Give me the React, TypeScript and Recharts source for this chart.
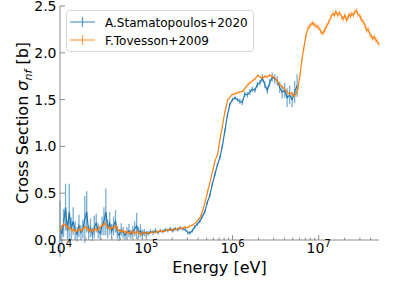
import { Legend, ErrorBar, Line, LineChart, XAxis, YAxis } from 'recharts';

const FONT = 'DejaVu Sans';
const AXIS = '#8c8c8c';
const BLUE = '#1f77b4';
const ORANGE = '#ff7f0e';

const seriesNames = ['A.Stamatopoulos+2020', 'F.Tovesson+2009'];

// A.Stamatopoulos+2020 (energy in eV, cross section in b)
const stamEnergy = [
  10000, 10500, 11000, 11600, 12200, 12800, 13500, 14200, 15000, 15800,
  16600, 17500, 18400, 19400, 20400, 21500, 22600, 23800, 25000, 26300,
  27700, 29200, 30700, 32300, 34000, 35800, 37700, 39700, 41800, 44000,
  46300, 48700, 51300, 54000, 56800, 59800, 63000, 66300, 69800, 73500,
  77400, 81500, 85800, 90300, 95000, 100000, 105000, 112000, 120000, 128000,
  137000, 146000, 156000, 167000, 178000, 190000, 203000, 217000, 232000, 248000,
  266000, 284000, 303000, 321000, 343000, 366000, 390000, 417000, 446000, 477000,
  510000, 547000, 585000, 625000, 668000, 714000, 763000, 817000, 873000, 933000,
  1000000, 1070000, 1140000, 1220000, 1300000, 1390000, 1490000, 1590000, 1700000, 1820000,
  1940000, 2080000, 2220000, 2370000, 2530000, 2700000, 2890000, 3090000, 3300000, 3530000,
  3770000, 4030000, 4300000, 4600000, 4920000, 5260000, 5620000,
];
const stamXs = [
  0.12, 0.06, 0.18, 0.35, 0.1, 0.3, 0.12, 0.2, 0.1, 0.06,
  0.15, 0.08, 0.12, 0.22, 0.3, 0.08, 0.13, 0.06, 0.14, 0.18,
  0.1, 0.07, 0.15, 0.2, 0.3, 0.12, 0.18, 0.09, 0.15, 0.2,
  0.08, 0.05, 0.11, 0.08, 0.05, 0.08, 0.1, 0.06, 0.09, 0.12,
  0.15, 0.08, 0.1, 0.06, 0.08, 0.07, 0.07, 0.09, 0.08, 0.1,
  0.08, 0.1, 0.09, 0.11, 0.1, 0.12, 0.1, 0.12, 0.11, 0.13,
  0.12, 0.11, 0.08, 0.075, 0.1, 0.14, 0.17, 0.2, 0.25, 0.3,
  0.4, 0.48, 0.6, 0.7, 0.8, 0.88, 1.0, 1.17, 1.33, 1.45,
  1.5, 1.52, 1.5, 1.48, 1.47, 1.56, 1.55, 1.58, 1.61, 1.6,
  1.66, 1.68, 1.73, 1.66, 1.6, 1.68, 1.74, 1.72, 1.7, 1.63,
  1.58, 1.6, 1.52, 1.55, 1.5, 1.58, 1.65,
];
const stamErr = [
  0.3, 0.1, 0.15, 0.25, 0.1, 0.3, 0.12, 0.15, 0.1, 0.08,
  0.12, 0.08, 0.1, 0.25, 0.22, 0.08, 0.1, 0.07, 0.12, 0.1,
  0.08, 0.07, 0.1, 0.15, 0.25, 0.1, 0.12, 0.08, 0.1, 0.12,
  0.07, 0.06, 0.07, 0.06, 0.05, 0.06, 0.07, 0.05, 0.06, 0.08,
  0.14, 0.06, 0.07, 0.05, 0.04, 0.03, 0.03, 0.03, 0.03, 0.03,
  0.02, 0.02, 0.02, 0.02, 0.02, 0.02, 0.02, 0.02, 0.02, 0.02,
  0.02, 0.02, 0.02, 0.02, 0.02, 0.02, 0.02, 0.02, 0.02, 0.02,
  0.02, 0.02, 0.02, 0.02, 0.02, 0.02, 0.02, 0.02, 0.02, 0.02,
  0.02, 0.02, 0.02, 0.03, 0.03, 0.03, 0.03, 0.03, 0.03, 0.03,
  0.03, 0.03, 0.04, 0.04, 0.04, 0.04, 0.05, 0.05, 0.05, 0.06,
  0.07, 0.08, 0.1, 0.1, 0.08, 0.12, 0.12,
];

// F.Tovesson+2009
const tovEnergy = [
  10000, 10500, 11000, 11500, 12000, 12600, 13200, 13800, 14500, 15200,
  16000, 16800, 17600, 18500, 19400, 20400, 21400, 22500, 23600, 24800,
  26000, 27300, 28700, 30100, 31600, 33200, 34900, 36600, 38400, 40300,
  42300, 44400, 46600, 49000, 51400, 54000, 56700, 59500, 62500, 65600,
  68900, 72300, 75900, 79700, 83700, 87900, 92300, 96900, 102000, 110000,
  118000, 127000, 136000, 146000, 157000, 169000, 181000, 195000, 209000, 225000,
  241000, 259000, 278000, 299000, 321000, 345000, 370000, 397000, 426000, 454000,
  486000, 519000, 555000, 593000, 625000, 677000, 714000, 765000, 817000, 885000,
  984000, 1050000, 1120000, 1200000, 1320000, 1420000, 1510000, 1590000, 1700000, 1820000,
  1970000, 2100000, 2250000, 2380000, 2510000, 2680000, 2860000, 3020000, 3180000, 3360000,
  3540000, 3740000, 3940000, 4100000, 4270000, 4440000, 4620000, 4810000, 5010000, 5220000,
  5430000, 5730000, 6040000, 6370000, 6710000, 7100000, 7480000, 7800000, 8100000, 8500000,
  8850000, 9250000, 9600000, 10000000, 10500000, 10900000, 11400000, 11800000, 12400000, 13100000,
  13800000, 14600000, 15200000, 15800000, 16600000, 17400000, 18500000, 19200000, 20100000, 21000000,
  21700000, 22500000, 23400000, 24200000, 25300000, 26200000, 27600000, 28300000, 29900000, 30800000,
  31500000, 32800000, 34200000, 35100000, 36000000, 37500000, 39100000, 40500000, 42400000, 43800000,
  45900000, 47500000, 49800000,
];
const tovXs = [
  0.1, 0.14, 0.17, 0.16, 0.15, 0.12, 0.13, 0.1, 0.11, 0.09,
  0.1, 0.12, 0.1, 0.12, 0.14, 0.13, 0.1, 0.11, 0.09, 0.11,
  0.12, 0.1, 0.13, 0.15, 0.16, 0.18, 0.15, 0.13, 0.12, 0.14,
  0.13, 0.15, 0.11, 0.1, 0.09, 0.1, 0.08, 0.09, 0.07, 0.08,
  0.09, 0.07, 0.08, 0.09, 0.07, 0.06, 0.08, 0.07, 0.08, 0.07,
  0.09, 0.08, 0.09, 0.1, 0.09, 0.1, 0.11, 0.1, 0.12, 0.11,
  0.13, 0.12, 0.14, 0.13, 0.15, 0.16, 0.18, 0.21, 0.25, 0.32,
  0.42, 0.53, 0.64, 0.75, 0.84, 0.93, 1.07, 1.22, 1.37, 1.5,
  1.55, 1.56, 1.57, 1.58, 1.59, 1.63, 1.66, 1.68, 1.7, 1.72,
  1.76, 1.74, 1.73, 1.75, 1.74, 1.76, 1.75, 1.74, 1.72, 1.69,
  1.66, 1.64, 1.62, 1.6, 1.58, 1.57, 1.56, 1.57, 1.55, 1.54,
  1.56, 1.62, 1.75, 1.92, 2.05, 2.18, 2.26, 2.28, 2.3, 2.32,
  2.3, 2.29, 2.28, 2.27, 2.23, 2.21, 2.22, 2.25, 2.29, 2.33,
  2.38, 2.42, 2.4, 2.44, 2.4, 2.43, 2.38, 2.36, 2.4, 2.35,
  2.37, 2.41, 2.39, 2.42, 2.4, 2.44, 2.45, 2.41, 2.4, 2.37,
  2.35, 2.33, 2.3, 2.27, 2.24, 2.25, 2.2, 2.18, 2.15, 2.17,
  2.14, 2.12, 2.09,
];
const tovErr = [
  0.02, 0.02, 0.02, 0.02, 0.02, 0.02, 0.02, 0.02, 0.02, 0.02,
  0.02, 0.02, 0.02, 0.02, 0.02, 0.02, 0.02, 0.02, 0.02, 0.02,
  0.02, 0.02, 0.02, 0.02, 0.02, 0.02, 0.02, 0.02, 0.02, 0.02,
  0.02, 0.02, 0.02, 0.02, 0.02, 0.02, 0.02, 0.02, 0.02, 0.02,
  0.02, 0.02, 0.02, 0.02, 0.02, 0.02, 0.02, 0.02, 0.01, 0.01,
  0.01, 0.01, 0.01, 0.01, 0.01, 0.01, 0.01, 0.01, 0.01, 0.01,
  0.01, 0.01, 0.01, 0.01, 0.01, 0.01, 0.01, 0.01, 0.01, 0.01,
  0.01, 0.01, 0.01, 0.01, 0.01, 0.01, 0.01, 0.01, 0.01, 0.01,
  0.015, 0.015, 0.015, 0.015, 0.015, 0.015, 0.015, 0.015, 0.015, 0.015,
  0.015, 0.015, 0.015, 0.015, 0.015, 0.015, 0.015, 0.015, 0.015, 0.015,
  0.015, 0.015, 0.015, 0.015, 0.015, 0.015, 0.015, 0.015, 0.015, 0.015,
  0.03, 0.03, 0.03, 0.03, 0.03, 0.03, 0.03, 0.03, 0.03, 0.03,
  0.03, 0.03, 0.03, 0.03, 0.03, 0.03, 0.03, 0.03, 0.03, 0.03,
  0.03, 0.03, 0.03, 0.03, 0.03, 0.03, 0.03, 0.03, 0.03, 0.03,
  0.03, 0.03, 0.03, 0.03, 0.03, 0.03, 0.03, 0.03, 0.03, 0.03,
  0.03, 0.03, 0.03, 0.03, 0.03, 0.03, 0.03, 0.03, 0.03, 0.03,
  0.03, 0.03, 0.03,
];

const xTicks = [
  1e4, 2e4, 3e4, 4e4, 5e4, 6e4, 7e4, 8e4, 9e4,
  1e5, 2e5, 3e5, 4e5, 5e5, 6e5, 7e5, 8e5, 9e5,
  1e6, 2e6, 3e6, 4e6, 5e6, 6e6, 7e6, 8e6, 9e6,
  1e7, 2e7, 3e7, 4e7,
];
const yTicks = [0, 0.5, 1, 1.5, 2, 2.5];

const stamData = stamEnergy.map((e, i) => ({ e, xs: stamXs[i], err: stamErr[i] }));
const tovData = tovEnergy.map((e, i) => ({ e, xs: tovXs[i], err: tovErr[i] }));

const XTick = (props: any) => {
  const { x, y, payload } = props;
  const v = payload.value;
  const exp = Math.round(Math.log10(v));
  const major = Math.abs(v / Math.pow(10, exp) - 1) < 1e-9;
  return (
    <g>
      <line x1={x} x2={x} y1={y} y2={y - (major ? 5 : 2.5)} stroke={AXIS} />
      {major && (
        <text x={x} y={y + 13} textAnchor='middle' fontSize={14} fontFamily={FONT} fill='#000'>
          10
          <tspan fontSize={10} dy={-6}>
            {exp}
          </tspan>
        </text>
      )}
    </g>
  );
};

const YTick = (props: any) => {
  const { x, y, payload } = props;
  return (
    <g>
      <line x1={x} x2={x + 5} y1={y} y2={y} stroke={AXIS} />
      <text x={x - 3.5} y={y + 5} textAnchor='end' fontSize={14} fontFamily={FONT} fill='#000'>
        {payload.value.toFixed(1)}
      </text>
    </g>
  );
};

const LegendBox = () => {
  const colors = [BLUE, ORANGE];
  return (
    <svg width={188} height={42} style={{ display: 'block' }}>
      <rect x={0.5} y={0.5} width={187} height={41} rx={3} fill='rgba(255,255,255,0.8)' stroke='#d6d6d6' />
      {seriesNames.map((name, i) => {
        const cy = 12 + i * 18;
        return (
          <g key={name}>
            <line x1={4} x2={29} y1={cy} y2={cy} stroke={colors[i]} strokeOpacity={0.75} strokeWidth={1.2} />
            <line x1={16.5} x2={16.5} y1={cy - 5} y2={cy + 5} stroke={colors[i]} strokeOpacity={0.75} strokeWidth={1.2} />
            <text x={39} y={cy + 4.5} fontSize={12} fontFamily={FONT} fill='#000'>
              {name}
            </text>
          </g>
        );
      })}
    </svg>
  );
};

export default function App() {
  return (
    <div style={{ position: 'absolute', left: 0, top: 0 }}>
      <LineChart width={399} height={290} margin={{ top: 6, right: 20, bottom: 0, left: 0 }}>
        <XAxis
          dataKey='e'
          type='number'
          scale='log'
          domain={[1e4, 5e7]}
          allowDataOverflow
          ticks={xTicks}
          interval={0}
          tick={<XTick />}
          tickLine={false}
          tickSize={0}
          tickMargin={0}
          height={50}
          axisLine={{ stroke: AXIS }}
          label={{
            content: () => (
              <text x={219.5} y={273} textAnchor='middle' fontSize={16} fontFamily={FONT} fill='#000'>
                Energy [eV]
              </text>
            ),
          }}
        />
        <XAxis
          xAxisId='top'
          orientation='top'
          dataKey='e'
          type='number'
          scale='log'
          domain={[1e4, 5e7]}
          allowDataOverflow
          height={0}
          tick={false}
          tickLine={false}
          axisLine={{ stroke: AXIS }}
        />
        <YAxis
          type='number'
          domain={[0, 2.5]}
          allowDataOverflow
          ticks={yTicks}
          interval={0}
          tick={<YTick />}
          tickLine={false}
          tickSize={0}
          tickMargin={0}
          width={60}
          axisLine={{ stroke: AXIS }}
          label={{
            content: () => (
              <text transform='translate(28, 123) rotate(-90)' textAnchor='middle' fontSize={16} fontFamily={FONT} fill='#000'>
                Cross Section{' '}
                <tspan fontStyle='italic'>σ</tspan>
                <tspan fontStyle='italic' fontSize={11} dy={4}>
                  nf
                </tspan>
                <tspan dy={-4}> [b]</tspan>
              </text>
            ),
          }}
        />
        <YAxis
          yAxisId='right'
          orientation='right'
          domain={[0, 2.5]}
          width={0}
          tick={false}
          tickLine={false}
          axisLine={{ stroke: AXIS }}
        />

        <Line
          data={stamData}
          dataKey='xs'
          name={seriesNames[0]}
          stroke={BLUE}
          strokeWidth={1.2}
          dot={false}
          type='linear'
          isAnimationActive={false}
        >
          <ErrorBar dataKey='err' direction='y' width={0} stroke='rgba(31,119,180,0.6)' strokeWidth={1.3} isAnimationActive={false} />
        </Line>
        <Line
          data={tovData}
          dataKey='xs'
          name={seriesNames[1]}
          stroke={ORANGE}
          strokeWidth={1.2}
          dot={false}
          type='linear'
          isAnimationActive={false}
        >
          <ErrorBar dataKey='err' direction='y' width={0} stroke='rgba(255,127,14,0.5)' strokeWidth={1} isAnimationActive={false} />
        </Line>

        <Legend
          layout='horizontal'
          verticalAlign='middle'
          align='center'
          wrapperStyle={{ left: 66, top: 10, width: 188, height: 42 }}
          content={() => <LegendBox />}
        />
      </LineChart>
    </div>
  );
}
